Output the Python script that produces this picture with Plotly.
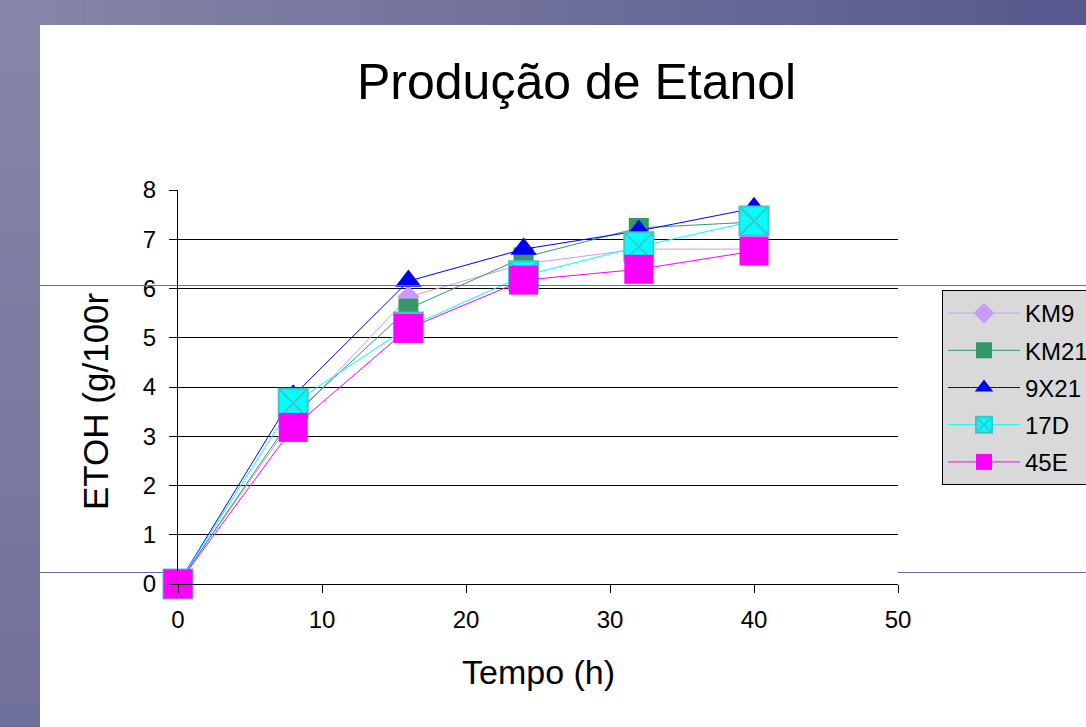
import plotly.graph_objects as go

# ---- data ----
tempo = [0, 8, 16, 24, 32, 40]
km9 = [0, 3.35, 5.83, 6.5, 6.8, 6.8]
km21 = [0, 3.42, 5.59, 6.63, 7.23, 7.35]
x9x21 = [0, 3.82, 6.15, 6.8, 7.17, 7.63]
d17 = [0, 3.67, 5.22, 6.26, 6.85, 7.37]
e45 = [0, 3.18, 5.19, 6.17, 6.39, 6.76]
series_names = ["KM9", "KM21", "9X21", "17D", "45E"]
x_ticks = [0, 10, 20, 30, 40, 50]
y_ticks = [0, 1, 2, 3, 4, 5, 6, 7, 8]

W, H = 1086, 727
FONT = "Liberation Sans, Arial, sans-serif"

def px(xp):
    return xp / W

def py(yp):
    return 1 - yp / H

styles = [
    dict(color="#cc99ff", symbol="diamond", size=17, lc="#cc99ff", line=dict(width=0)),
    dict(color="#339966", symbol="square", size=20, lc="#339966", line=dict(width=0)),
    dict(color="#0000ff", symbol="triangle-up", size=23, lc="#0000ff", line=dict(width=0)),
    dict(color="#00ffff", symbol="square-x", size=29, lc="#00ffff", line=dict(width=2, color="#3cc8c8")),
    dict(color="#ff00ff", symbol="square", size=29, lc="#ff00ff", line=dict(width=0)),
]
data = [km9, km21, x9x21, d17, e45]

fig = go.Figure()
for name, ys, st in zip(series_names, data, styles):
    fig.add_trace(go.Scatter(
        x=tempo, y=ys, name=name, mode="lines+markers",
        legendgroup=name,
        line=dict(color=st["lc"], width=1),
        marker=dict(color=st["color"], symbol=st["symbol"], size=st["size"], line=st["line"]),
        cliponaxis=False,
    ))

shapes = []
# gradient bands (slide background)
N = 40
c0 = (134, 134, 168)
c1 = (88, 88, 142)
for i in range(N):
    t = i / (N - 1)
    col = tuple(int(round(a + (b - a) * t)) for a, b in zip(c0, c1))
    shapes.append(dict(type="rect", xref="paper", yref="paper",
                       x0=i / N, x1=(i + 1) / N + 0.001, y0=py(25), y1=1,
                       fillcolor="rgb(%d,%d,%d)" % col, line=dict(width=0), layer="below"))
cb = (112, 112, 156)
M = 30
for i in range(M):
    t = i / (M - 1)
    col = tuple(int(round(a + (b - a) * t)) for a, b in zip(c0, cb))
    y_top = 25 + (H - 25) * i / M
    y_bot = 25 + (H - 25) * (i + 1) / M + 1
    shapes.append(dict(type="rect", xref="paper", yref="paper",
                       x0=0, x1=px(40), y0=py(y_bot), y1=py(y_top),
                       fillcolor="rgb(%d,%d,%d)" % col, line=dict(width=0), layer="below"))
# slide guide lines
shapes.append(dict(type="line", xref="paper", yref="paper", x0=px(40), x1=1,
                   y0=py(285.5), y1=py(285.5), line=dict(color="#6a6a9c", width=1), layer="above"))
shapes.append(dict(type="line", xref="paper", yref="paper", x0=px(40), x1=px(166),
                   y0=py(572.5), y1=py(572.5), line=dict(color="#6a6a9c", width=1), layer="below"))
shapes.append(dict(type="line", xref="paper", yref="paper", x0=px(898), x1=1,
                   y0=py(572.5), y1=py(572.5), line=dict(color="#6a6a9c", width=1), layer="below"))

annotations = [
    dict(text="Produção de Etanol", x=px(576), y=py(82), xref="paper", yref="paper",
         showarrow=False, font=dict(family=FONT, size=50, color="black"),
         xanchor="center", yanchor="middle"),
    dict(text="Tempo (h)", x=px(538), y=py(672), xref="paper", yref="paper",
         showarrow=False, font=dict(family=FONT, size=34, color="black"),
         xanchor="center", yanchor="middle"),
    dict(text="ETOH (g/100r", x=px(95), y=py(401), xref="paper", yref="paper",
         showarrow=False, textangle=-90, font=dict(family=FONT, size=35, color="black"),
         xanchor="center", yanchor="middle"),
]

fig.update_layout(
    width=W, height=H,
    margin=dict(l=0, r=0, t=0, b=0, autoexpand=False),
    paper_bgcolor="white", plot_bgcolor="white",
    shapes=shapes, annotations=annotations,
    showlegend=True,
    legend=dict(x=px(942), y=py(290), xanchor="left", yanchor="top",
                bgcolor="#d9d9d9", bordercolor="black", borderwidth=1,
                font=dict(family=FONT, size=24, color="black"),
                itemwidth=72, tracegroupgap=3, traceorder="grouped"),
    xaxis=dict(domain=[px(178), px(898)], range=[0, 50], tickvals=x_ticks,
               showgrid=False, zeroline=False, showline=True, linecolor="black", linewidth=1,
               ticks="outside", ticklen=8, tickcolor="black",
               tickfont=dict(family=FONT, size=24, color="black"), ticklabelstandoff=6),
    yaxis=dict(domain=[py(584), py(190)], range=[0, 8], tickvals=y_ticks,
               showgrid=True, gridcolor="black", gridwidth=1, zeroline=False,
               showline=True, linecolor="black", linewidth=1,
               ticks="outside", ticklen=8, tickcolor="black",
               tickfont=dict(family=FONT, size=24, color="black"), ticklabelstandoff=8),
)

fig.write_html("out.html", config={"displayModeBar": False},
               post_script="document.body.style.margin='0';document.body.style.overflow='hidden';")
